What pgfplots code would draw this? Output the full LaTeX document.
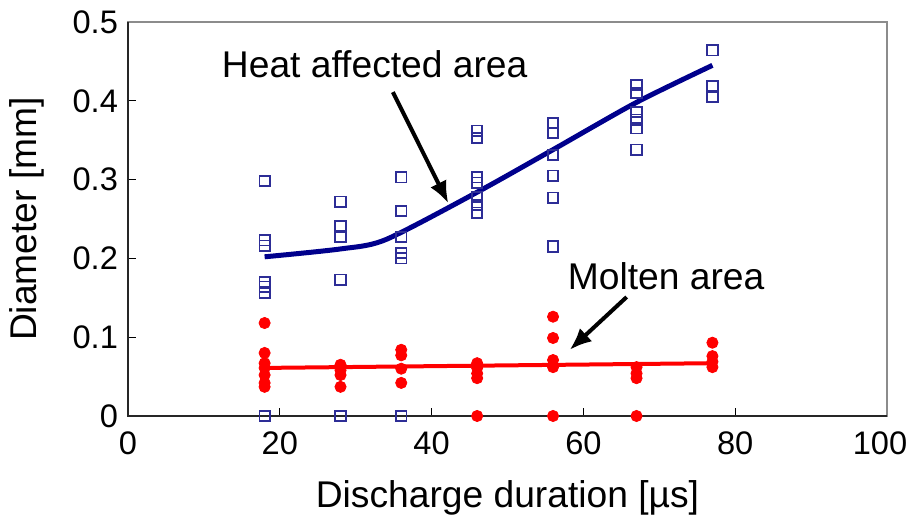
\documentclass[border=0pt]{standalone}
\usepackage{fontspec}
\setmainfont{Liberation Sans}
\usepackage{pgfplots}
\pgfplotsset{compat=1.18}
\usetikzlibrary{arrows.meta}
\definecolor{hblue}{RGB}{0,0,140}
\definecolor{sqblue}{RGB}{45,45,150}
\definecolor{mred}{RGB}{255,0,0}
\begin{document}
\begin{tikzpicture}
\begin{axis}[
  width=379.5pt, height=197pt, scale only axis,
  xmin=0, xmax=100, ymin=0, ymax=0.5,
  xtick={0,20,40,60,80,100},
  ytick={0,0.1,0.2,0.3,0.4,0.5},
  tick align=inside, xtick pos=bottom, ytick pos=left,
  major tick length=4pt,
  tick style={black, line width=0.6pt},
  axis line style={black!45, line width=0.8pt},
  /pgf/number format/assume math mode=true,
  ticklabel style={font=\fontsize{16.3}{19}\selectfont},
  xticklabel={\ifnum\ticknum=5\relax\hspace*{-7pt}\fi\pgfmathprintnumber{\tick}},
  xticklabel style={yshift=-4.5pt},
  yticklabel style={xshift=-1.5pt},
  label style={font=\fontsize{18.6}{22}\selectfont},
  xlabel={Discharge duration [µs]},
  ylabel={Diameter [mm]},
  xlabel style={at={(axis description cs:0.5,-0.2335)}, anchor=base},
  ylabel style={at={(axis description cs:-0.1212,0.5)}, anchor=base},
  clip=false,
]
% blue squares: heat affected area
\addplot[only marks, mark=square, mark size=2.6pt, mark options={draw=sqblue, line width=0.9pt}] table {
x y
18 0
18 0.156
18 0.164
18 0.170
18 0.216
18 0.223
18 0.298
28 0
28 0.173
28 0.227
28 0.241
28 0.272
36 0
36 0.200
36 0.207
36 0.227
36 0.260
36 0.303
46 0.258
46 0.268
46 0.278
46 0.296
46 0.303
46 0.353
46 0.362
56 0.215
56 0.277
56 0.305
56 0.331
56 0.359
56 0.372
67 0.338
67 0.365
67 0.376
67 0.386
67 0.410
67 0.420
77 0.405
77 0.419
77 0.464
};
\addplot[hblue, line width=2.5pt, smooth, tension=0.45, no marks] table {
x y
18 0.202
28 0.212
34 0.224
46 0.284
56 0.338
67 0.398
77 0.445
};
% red dots: molten area
\addplot[only marks, mark=*, mark size=2.8pt, mark options={draw=mred, fill=mred}] table {
x y
18 0.118
18 0.080
18 0.067
18 0.061
18 0.052
18 0.042
18 0.037
28 0.065
28 0.058
28 0.052
28 0.037
36 0.084
36 0.077
36 0.060
36 0.042
46 0.067
46 0.061
46 0.054
46 0.048
46 0
56 0.126
56 0.099
56 0.071
56 0.062
56 0
67 0.062
67 0.054
67 0.048
67 0
77 0.093
77 0.076
77 0.069
77 0.062
};
\addplot[mred, line width=2pt, no marks] table {
x y
18 0.061
77 0.067
};
\draw[black!85, line width=0.8pt] (rel axis cs:0,1) -- (rel axis cs:0,0) -- (rel axis cs:1,0);
\node[font=\fontsize{18.6}{22}\selectfont, anchor=base] at (axis cs:32.5,0.429) {Heat affected area};
\draw[-{Latex[length=11pt,width=9pt]}, line width=2pt] (axis cs:34.9,0.411) -- (axis cs:42.2,0.270);
\node[font=\fontsize{18.6}{22}\selectfont, anchor=base] at (axis cs:70.9,0.160) {Molten area};
\draw[-{Latex[length=11pt,width=9pt]}, line width=2pt] (axis cs:65.7,0.151) -- (axis cs:58.2,0.084);
\end{axis}
\pgfresetboundingbox
\path[use as bounding box] ([shift={(-64pt,-51pt)}]current axis.south west) rectangle ([shift={(11.5pt,11pt)}]current axis.north east);
\end{tikzpicture}
\end{document}
